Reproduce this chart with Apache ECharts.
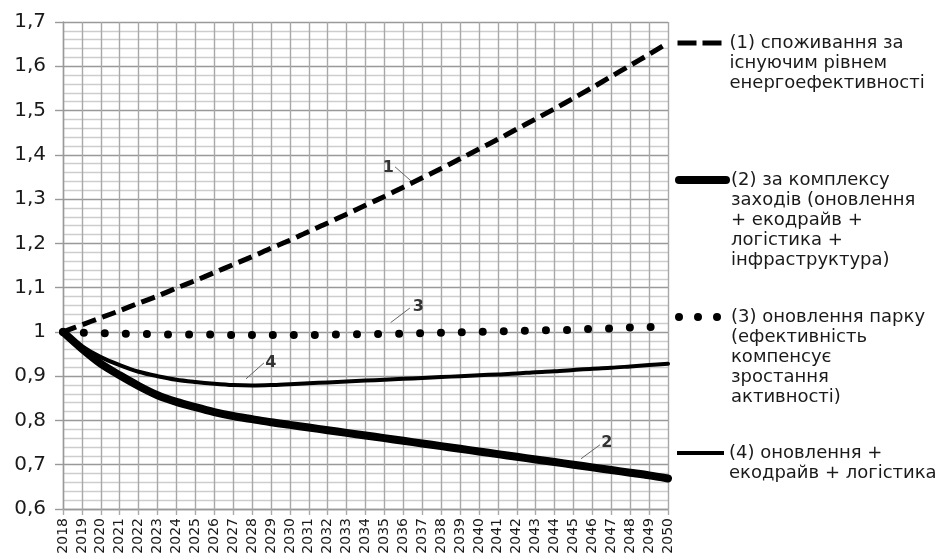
<!DOCTYPE html>
<html>
<head>
<meta charset="utf-8">
<script src="https://cdn.jsdelivr.net/npm/echarts@6/dist/echarts.min.js"></script>
<style>html,body{margin:0;padding:0;background:#fff;}#c{width:936px;height:560px;}</style>
</head>
<body>
<div id="c"></div>
<script>
const years = [2018,2019,2020,2021,2022,2023,2024,2025,2026,2027,2028,2029,2030,2031,2032,2033,2034,2035,2036,2037,2038,2039,2040,2041,2042,2043,2044,2045,2046,2047,2048,2049,2050];

// (1) existing efficiency level (dashed)
const existingLevel = [1.000,1.016,1.032,1.048,1.065,1.081,1.099,1.116,1.134,1.152,1.170,1.189,1.207,1.227,1.246,1.266,1.286,1.306,1.327,1.348,1.369,1.391,1.413,1.435,1.458,1.481,1.504,1.528,1.552,1.577,1.602,1.627,1.653];
// (2) complex of measures (thick solid)
const allMeasures = [1.000,0.962,0.928,0.902,0.878,0.857,0.842,0.830,0.819,0.810,0.803,0.796,0.790,0.784,0.778,0.772,0.766,0.760,0.754,0.748,0.742,0.736,0.730,0.724,0.718,0.712,0.706,0.700,0.694,0.688,0.682,0.676,0.669];
// (3) fleet renewal (dotted)
const fleetRenewal = [1.000,0.998,0.997,0.996,0.995,0.995,0.994,0.994,0.994,0.993,0.993,0.993,0.993,0.993,0.994,0.994,0.995,0.995,0.996,0.997,0.998,0.999,1.000,1.001,1.002,1.003,1.004,1.005,1.007,1.008,1.010,1.011,1.012];
// (4) renewal + ecodrive + logistics (thin solid)
const renewalEcoLogistics = [1.000,0.968,0.943,0.925,0.910,0.900,0.892,0.887,0.883,0.880,0.879,0.880,0.882,0.884,0.886,0.888,0.890,0.892,0.894,0.896,0.898,0.900,0.902,0.904,0.906,0.909,0.911,0.914,0.917,0.919,0.922,0.925,0.928];

const seriesNames = [
  '(1) споживання за\nіснуючим рівнем\nенергоефективності',
  '(2) за комплексу\nзаходів (оновлення\n+ екодрайв +\nлогістика +\nінфраструктура)',
  '(3) оновлення парку\n(ефективність\nкомпенсує\nзростання\nактивності)',
  '(4) оновлення +\nекодрайв + логістика'
];

// curve number labels (data coordinates) and their leader lines
const curveLabels = ['1','2','3','4'];
const labelAnchors = [[2035.21,1.370],[2046.76,0.750],[2036.79,1.057],[2028.99,0.931]];
const leaderFrom = [[2035.56,1.373],[2045.40,0.7135],[2035.33,1.021],[2027.68,0.894]];
const leaderTo = [[2036.41,1.341],[2046.40,0.745],[2036.35,1.054],[2028.63,0.930]];

const FONT = 'DejaVu Sans';
const pairs = arr => years.map((y,i) => [y, arr[i]]);

function annotate(k){
  return {
    markPoint: {
      silent: true, symbol: 'circle', symbolSize: 0, animation: false,
      label: {show: true, position: 'inside', formatter: '{b}', fontFamily: FONT, fontSize: 16, fontWeight: 'bold', color: '#333'},
      data: [{name: curveLabels[k], coord: labelAnchors[k]}]
    },
    markLine: {
      silent: true, symbol: ['none','none'], animation: false,
      label: {show: false},
      lineStyle: {color: '#666', width: 1, type: 'solid', cap: 'butt'},
      emphasis: {disabled: true},
      data: [[{coord: leaderFrom[k]}, {coord: leaderTo[k]}]]
    }
  };
}

const lineStyles = [
  {color: '#000', width: 5, type: [14, 7], cap: 'butt'},
  {color: '#000', width: 8, type: 'solid', cap: 'round'},
  {color: '#000', width: 8, type: [0, 21], cap: 'round'},
  {color: '#000', width: 4, type: 'solid', cap: 'round'}
];
const dataSets = [existingLevel, allMeasures, fleetRenewal, renewalEcoLogistics];

const series = [0,2,3,1].map(k => Object.assign({
  name: seriesNames[k],
  type: 'line',
  data: pairs(dataSets[k]),
  showSymbol: false,
  symbol: 'none',
  smooth: 0.3,
  color: '#000',
  lineStyle: lineStyles[k],
  z: 2 + k
}, annotate(k)));

const legendIcons = [
  {type: [19, 6], width: 5, cap: 'butt'},
  {type: 'solid', width: 8, cap: 'round'},
  {type: [0, 19], width: 8, cap: 'round'},
  {type: 'solid', width: 4, cap: 'butt'}
];
const legendCenters = [43, 180, 317, 453];
const legends = [0,1,2,3].map(k => {
  const n = seriesNames[k].split('\n').length;
  return {
    data: [seriesNames[k]],
    left: 675,
    top: legendCenters[k] - (2*n - 1) * 10,
    orient: 'vertical',
    padding: 0,
    itemWidth: 47,
    itemHeight: 14,
    selectedMode: false,
    formatter: name => '\n'.repeat(n - 1) + name,
    itemStyle: {color: 'rgba(0,0,0,0)', borderWidth: 0, opacity: 0},
    lineStyle: Object.assign({color: '#000'}, legendIcons[k]),
    textStyle: {fontFamily: FONT, fontSize: 18, lineHeight: 20, color: '#1a1a1a'}
  };
});

const chart = echarts.init(document.getElementById('c'), null, {renderer: 'canvas'});
chart.setOption({
  animation: false,
  backgroundColor: '#fff',
  grid: {left: 63, top: 22, right: 268, bottom: 51, containLabel: false},
  legend: legends,
  xAxis: {
    type: 'value', min: 2018, max: 2050, interval: 1,
    axisLine: {show: true, lineStyle: {color: '#999', width: 1.4}},
    axisTick: {show: true, length: 6, lineStyle: {color: '#aaa', width: 1.4}},
    splitLine: {show: true, lineStyle: {color: '#a8a8a8', width: 1.4}},
    axisLabel: {rotate: 90, margin: 9, fontFamily: FONT, fontSize: 14, color: '#1a1a1a', formatter: v => String(v)}
  },
  yAxis: {
    type: 'value', min: 0.6, max: 1.7, interval: 0.1,
    axisLine: {show: true, lineStyle: {color: '#999', width: 1.4}},
    axisTick: {show: true, length: 8, lineStyle: {color: '#999', width: 1.4}},
    splitLine: {show: true, lineStyle: {color: '#999', width: 1.4}},
    minorTick: {show: false, splitNumber: 5},
    minorSplitLine: {show: true, lineStyle: {color: '#cdcdcd', width: 1.4}},
    axisLabel: {margin: 17, fontFamily: FONT, fontSize: 20, color: '#1a1a1a',
      formatter: v => String(Number(v.toFixed(1))).replace('.', ',')}
  },
  series: series
});
</script>
</body>
</html>
